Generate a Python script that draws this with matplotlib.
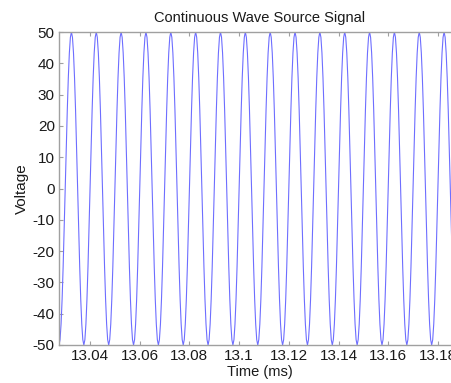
import numpy as np
import matplotlib
matplotlib.use('Agg')
from matplotlib import pyplot as plt

# one period of the source signal, starting at a trough (volts)
wave_cycle = [-50.0, -48.3, -43.3, -35.4, -25.0, -12.9, 0.0, 12.9,
              25.0, 35.4, 43.3, 48.3, 50.0, 48.3, 43.3, 35.4,
              25.0, 12.9, 0.0, -12.9, -25.0, -35.4, -43.3, -48.3]
# trough times (ms)
trough_times = [13.0275, 13.0375, 13.0475, 13.0575, 13.0675, 13.0775,
                13.0875, 13.0975, 13.1075, 13.1175, 13.1275, 13.1375,
                13.1475, 13.1575, 13.1675, 13.1775, 13.1875]
period_ms = 0.01

xticks = [13.04, 13.06, 13.08, 13.1, 13.12, 13.14, 13.16, 13.18]
xtick_labels = ['13.04', '13.06', '13.08', '13.1', '13.12', '13.14', '13.16', '13.18']
yticks = [-50, -40, -30, -20, -10, 0, 10, 20, 30, 40, 50]

plt.rcParams['font.family'] = ['Liberation Sans', 'DejaVu Sans']
plt.rcParams['axes.unicode_minus'] = False

n = len(wave_cycle)
t = []
v = []
for t0 in trough_times:
    for i, val in enumerate(wave_cycle):
        t.append(t0 + period_ms * i / n)
        v.append(val)
t.append(trough_times[-1] + period_ms)
v.append(wave_cycle[0])

fig = plt.figure(figsize=(4.52, 3.83), dpi=100)
# the right side of the axes runs off the image, as in the reference
ax = fig.add_axes([59 / 452, 38 / 383, 401 / 452, 313 / 383])
ax.plot(t, v, color='#6e6eff', linewidth=0.8)

ax.set_xlim(13.0275, 13.1889)
ax.set_ylim(-50, 50)
ax.set_xticks(xticks)
ax.set_xticklabels(xtick_labels)
ax.set_yticks(yticks)

for side in ['left', 'bottom', 'top', 'right']:
    ax.spines[side].set_color('#a0a0a0')
    ax.spines[side].set_linewidth(1.0)
ax.tick_params(direction='in', length=3, width=0.8, color='#a0a0a0',
               labelsize=11, labelcolor='#1a1a1a', top=True, right=True, pad=3)

ax.set_title('Continuous Wave Source Signal', fontsize=10.5, color='#1a1a1a', pad=7)
ax.set_xlabel('Time (ms)', fontsize=10.5, color='#1a1a1a', labelpad=1)
ax.set_ylabel('Voltage', fontsize=11, color='#1a1a1a', labelpad=3)

fig.savefig('out.png', dpi=100)
